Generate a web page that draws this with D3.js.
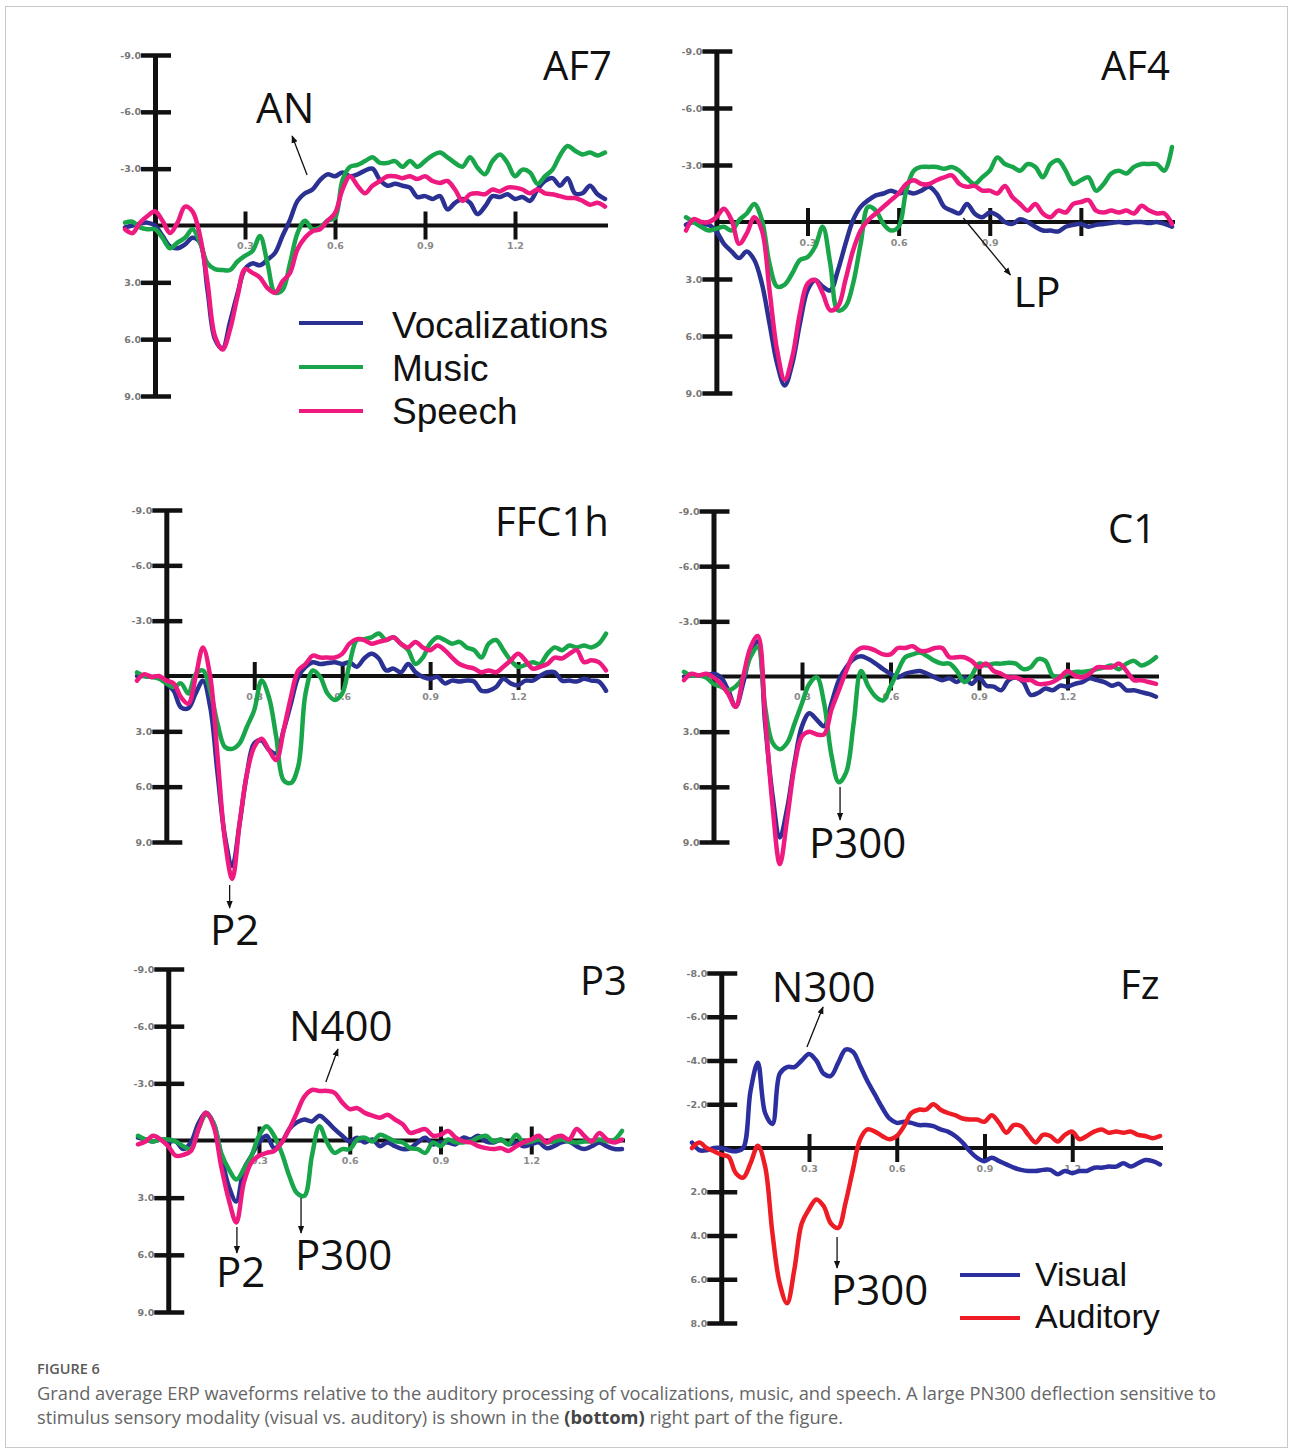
<!DOCTYPE html>
<html><head><meta charset="utf-8">
<script src="https://cdn.jsdelivr.net/npm/d3@7"></script>
<style>
body{margin:0;background:#fff;}
svg{display:block;}
</style></head>
<body>
<svg id="fig" width="1290" height="1450"></svg>
<script>
// ---------- DATA ----------
const times = [-0.1,-0.075,-0.05,-0.025,0,0.025,0.05,0.075,0.1,0.125,0.15,0.175,0.2,0.225,0.25,0.275,0.3,0.325,0.35,0.375,0.4,0.425,0.45,0.475,0.5,0.525,0.55,0.575,0.6,0.625,0.65,0.675,0.7,0.725,0.75,0.775,0.8,0.825,0.85,0.875,0.9,0.925,0.95,0.975,1.0,1.025,1.05,1.075,1.1,1.125,1.15,1.175,1.2,1.225,1.25,1.275,1.3,1.325,1.35,1.375,1.4,1.425,1.45,1.475,1.5];
const yTicks9 = [-9,-6,-3,3,6,9];
const yTicks8 = [-8,-6,-4,-2,2,4,6,8];
const xTicks = [0.3,0.6,0.9,1.2];
const xTickLabels = ["0.3","0.6","0.9","1.2"];
const xTickLabelsAF4 = ["0.3","0.6","0.9",""];
const condNames = ["Vocalizations","Music","Speech"];
const modNames = ["Visual","Auditory"];

const af7Voc = [0.1,0.0,-0.1,-0.15,0.0,0.55,1.1,1.2,1.0,0.65,0.9,3.4,6.0,6.5,5.1,3.6,2.3,2.0,2.1,1.8,1.45,0.55,-0.3,-1.3,-1.7,-1.9,-2.4,-2.7,-2.6,-2.8,-2.6,-2.7,-2.9,-3.0,-2.4,-2.1,-2.2,-2.1,-2.0,-1.5,-1.55,-1.4,-1.55,-0.85,-1.2,-1.4,-1.2,-0.6,-1.0,-1.55,-1.5,-1.65,-1.4,-1.5,-1.3,-1.9,-2.35,-2.5,-2.1,-2.5,-1.7,-1.7,-2.1,-1.65,-1.4];
const af7Mus = [-0.15,-0.2,0.1,0.2,0.2,0.65,1.2,0.9,0.65,0.2,0.9,2.0,2.3,2.35,2.35,1.9,1.6,1.35,0.55,2.0,3.55,3.4,2.0,0.4,-0.25,0.2,0.1,-0.25,-0.4,-2.4,-3.1,-3.2,-3.4,-3.6,-3.3,-3.3,-3.4,-3.1,-3.4,-3.1,-3.4,-3.7,-3.85,-3.6,-3.3,-3.1,-3.6,-3.05,-2.7,-3.4,-3.75,-3.3,-2.6,-2.95,-2.8,-2.2,-2.6,-2.95,-3.7,-4.2,-3.95,-3.75,-3.85,-3.7,-3.85];
const af7Sp = [0.2,0.4,-0.15,-0.5,-0.75,-0.25,0.4,-0.15,-1.0,-0.75,0.55,3.0,5.85,6.55,5.5,3.75,2.3,2.5,2.75,3.3,3.55,2.95,2.5,1.25,0.65,0.3,0.2,-0.25,-0.65,-1.9,-2.6,-2.1,-1.7,-2.1,-2.35,-2.6,-2.6,-2.5,-2.6,-2.45,-2.6,-2.35,-2.25,-2.35,-1.9,-1.3,-1.65,-1.7,-1.65,-1.9,-1.8,-2.0,-2.0,-1.9,-1.7,-1.9,-1.7,-1.65,-1.55,-1.45,-1.45,-1.3,-1.1,-1.2,-1.0];

const af4Voc = [0.15,0,0.1,0.15,0.5,1.15,1.55,1.9,1.55,2.0,3.25,5.35,7.45,8.6,7.45,5.35,3.6,3.05,3.4,3.6,2.55,1.15,-0.1,-0.8,-1.15,-1.4,-1.5,-1.65,-1.5,-1.6,-1.5,-1.65,-1.85,-1.5,-0.8,-0.6,-0.45,-0.95,-0.45,-0.25,-0.5,-0.35,0,0.1,-0.15,0,0.25,0.45,0.45,0.5,0.25,0.15,0.1,0.25,0.15,0.1,0.05,0,0.05,0,0,0.05,0,0.1,0.25];
const af4Mus = [-0.25,0,0.25,0.45,0.35,0.25,0.45,-0.1,-0.45,-0.95,-0.1,2.2,3.4,3.3,2.7,2.0,1.85,1.3,0.25,2.2,4.65,4.45,3.25,1.15,-0.8,-0.6,0.1,0.45,0.25,-1.65,-2.7,-2.9,-2.9,-2.9,-2.8,-2.9,-2.7,-2.3,-2.0,-2.35,-2.7,-3.4,-3.05,-2.9,-2.7,-3.05,-2.9,-2.35,-3.05,-3.25,-2.7,-2.0,-2.2,-2.35,-1.65,-2.0,-2.55,-2.7,-2.55,-2.9,-3.05,-3.05,-3.05,-2.7,-3.95];
const af4Sp = [0.45,-0.15,0,0,-0.25,-0.7,-0.1,1.15,0.6,-0.25,0.45,3.6,6.75,8.3,7.1,4.8,3.25,3.05,3.75,4.65,4.45,3.05,1.5,0.45,-0.1,-0.45,-0.8,-1.15,-1.5,-2.0,-2.2,-2.0,-2.0,-2.2,-2.35,-2.45,-2.0,-1.85,-1.9,-1.65,-1.65,-1.5,-1.9,-1.3,-0.95,-0.6,-0.95,-0.45,-0.25,-0.6,-0.5,-0.95,-1.05,-1.15,-0.6,-0.5,-0.6,-0.5,-0.6,-0.45,-0.85,-0.6,-0.45,-0.45,0.1];

const ffcVoc = [0,0,0.05,0.05,0.4,0.8,1.7,1.75,0.95,0.25,1.7,5.3,8.7,10.3,8.0,5.3,3.65,3.5,4.0,4.2,2.95,1.5,0.05,-0.5,-0.75,-0.65,-0.7,-0.75,-0.65,-0.75,-0.5,-0.95,-1.2,-0.95,-0.3,-0.4,-0.2,-0.65,-0.2,0.05,0.15,0.05,0.4,0.25,0.3,0.25,0.3,0.8,0.8,0.6,0.15,0.4,0.5,0.25,0.25,0,-0.2,-0.2,0.25,0.25,0.3,0.15,0.25,0.3,0.8];
const ffcMus = [-0.2,0,0.05,0.15,0.4,0.6,0.4,0.95,-0.1,-0.3,0.8,2.6,3.85,3.95,3.65,2.75,1.85,0.25,1.15,3.3,5.65,5.8,4.9,0.95,-0.3,0.05,0.95,1.3,0.95,-0.65,-1.95,-2.0,-2.1,-2.3,-1.95,-2.1,-1.75,-1.4,-0.65,-1.0,-1.75,-2.1,-1.95,-1.75,-1.85,-1.55,-1.4,-1.0,-1.75,-1.95,-1.4,-0.85,-0.5,-0.6,-0.75,-0.65,-1.2,-1.55,-1.4,-1.65,-1.55,-1.65,-1.55,-1.75,-2.3];
const ffcSp = [0.25,-0.1,0.05,0,0.25,0.4,1.15,1.5,0.05,-1.55,0.05,4.4,8.9,11.0,8.0,5.3,3.85,3.4,4.0,4.55,2.95,1.15,-0.3,-0.65,-1.1,-1.0,-1.0,-1.0,-1.2,-1.75,-2.0,-1.95,-1.75,-1.85,-1.95,-2.1,-1.75,-1.55,-1.85,-1.55,-1.4,-1.65,-1.4,-1.0,-0.65,-0.5,-0.4,-0.2,-0.3,-0.2,-0.5,-0.85,-1.2,-0.85,-0.4,-0.5,-0.65,-1.0,-0.95,-1.2,-1.4,-0.75,-0.85,-0.75,-0.3];

const c1Voc = [0,-0.05,-0.05,-0.05,-0.15,0.05,0.75,1.65,0.4,-1.2,-1.9,2.55,6.45,8.75,7.15,4.65,2.7,2.0,2.35,2.7,1.45,0.2,-0.5,-0.95,-1.1,-0.95,-0.7,-0.4,-0.15,0.05,-0.15,-0.25,-0.3,-0.15,0.05,0.2,0.1,0.3,0.05,0.4,0.05,0.5,0.55,0.75,0.2,0.05,0.3,1.0,0.9,0.65,0.75,0.5,0.55,0.4,0.3,0.1,0.2,0.3,0.5,0.4,0.75,0.75,0.85,0.95,1.1];
const c1Mus = [-0.25,-0.05,-0.05,0.05,0.4,0.55,0.75,0.55,0.05,-1.05,-1.6,1.65,3.6,3.95,3.6,2.55,1.45,0.4,0.05,1.45,4.3,5.75,5.2,2.55,-0.3,0.55,1.1,1.3,0.55,-0.3,-1.05,-1.2,-1.3,-1.1,-0.85,-0.7,-0.7,-0.3,0.3,-0.05,-0.7,-0.6,-0.7,-0.7,-0.75,-0.7,-0.4,-0.5,-0.95,-0.85,-0.05,0.05,-0.15,-0.25,-0.25,-0.3,-0.4,-0.5,-0.6,-0.4,-0.7,-0.85,-0.6,-0.75,-1.05];
const c1Sp = [0.2,-0.15,-0.05,-0.15,0.05,0.4,0.95,1.65,0.05,-1.55,-2.2,2.15,7.0,10.2,7.7,4.85,3.25,3.0,3.15,3.15,1.8,0.75,-0.3,-1.2,-1.55,-1.55,-1.4,-1.2,-1.2,-1.55,-1.55,-1.65,-1.4,-1.4,-1.55,-1.55,-1.05,-1.05,-1.05,-0.85,-0.5,-0.7,-0.3,-0.15,0.05,0.05,0.2,0.2,0.4,0.4,0.3,0.05,-0.3,-0.05,0.05,-0.15,-0.5,-0.5,-0.5,-0.7,-0.3,0.2,0.2,0.3,0.4];

const p3Voc = [-0.15,-0.05,0.05,-0.05,0.05,0.05,0.45,0.1,-0.9,-1.45,-0.9,0.8,2.4,3.2,1.5,0.8,0.1,-0.25,0.4,0.1,-0.6,-0.95,-1.1,-1.0,-1.3,-1.0,-0.6,-0.25,0.05,-0.15,0.1,-0.05,0.3,0.1,0.3,0.45,0.4,0.1,-0.15,0.2,0.1,0.1,0.2,-0.15,-0.05,-0.25,0.05,0.1,-0.05,0.2,0.1,0.3,0.2,0.1,0.4,0.3,0.1,0.05,0.3,0.45,0.3,0.1,0.3,0.45,0.45];
const p3Mus = [-0.25,-0.05,0.05,-0.05,-0.05,0.05,0.3,0.45,-0.6,-1.35,-0.9,0.65,1.5,2.05,1.5,0.8,-0.25,-0.75,-0.25,0.65,1.85,2.75,2.9,0.8,-0.75,0.1,0.65,0.45,0.45,-0.05,-0.15,0.05,-0.3,-0.15,0.05,0.1,0.4,0.45,0.65,0.1,0.3,-0.05,0.1,0.1,0.05,-0.15,-0.25,0.05,-0.05,0.2,-0.3,0.1,0.05,-0.05,0.1,0.05,-0.05,0.05,0.1,0.05,0.05,-0.05,0.05,-0.05,-0.5];
const p3Sp = [0.2,0.05,-0.25,-0.05,0.3,0.8,0.75,0.55,-0.6,-1.45,-0.75,1.35,3.1,4.3,2.2,1.15,0.8,0.65,0.55,0.1,-0.6,-1.45,-2.3,-2.65,-2.6,-2.6,-2.5,-2.0,-1.65,-1.7,-1.45,-1.3,-1.2,-1.35,-1.1,-0.85,-0.4,-0.5,-0.6,-0.25,-0.3,-0.5,-0.15,0.05,0.1,0.3,0.4,0.45,0.4,0.55,0.3,0.1,-0.05,-0.25,0.1,-0.15,-0.25,-0.05,-0.6,-0.25,0.05,-0.4,-0.05,0.1,-0.05];

const fzVis = [-0.25,0.1,0.1,0,0,0.1,0.15,0,-2.6,-3.9,-1.6,-1.1,-3.4,-3.7,-3.7,-4.0,-4.3,-4.0,-3.4,-3.3,-3.9,-4.5,-4.4,-3.75,-3.05,-2.45,-1.85,-1.35,-1.15,-1.2,-1.15,-1.05,-1.05,-1.0,-0.85,-0.75,-0.55,-0.25,0.15,0.45,0.6,0.45,0.6,0.75,0.9,1.0,1.05,1.05,1.0,1.0,1.2,1.05,1.15,1.05,1.05,0.9,0.9,0.85,0.85,0.7,0.85,0.7,0.55,0.6,0.75];
const fzAud = [0,-0.25,0,0.15,0.3,0.4,1.15,1.35,0.7,-0.1,0.85,3.9,6.2,7.1,5.55,3.45,2.8,2.35,2.65,3.45,3.65,2.5,1.0,-0.4,-0.85,-0.75,-0.55,-0.4,-0.55,-1.0,-1.6,-1.75,-1.75,-2.0,-1.75,-1.6,-1.5,-1.35,-1.3,-1.3,-1.2,-1.5,-1.15,-0.7,-1.05,-1.0,-0.6,-0.25,-0.6,-0.55,-0.3,-0.6,-0.75,-0.4,-0.55,-0.75,-0.85,-0.7,-0.75,-0.7,-0.75,-0.6,-0.55,-0.45,-0.55];

// ---------- STYLE / LAYOUT ----------
const condColors = ["#2b3192","#19a64b","#ee1a80"];
const modColors = ["#2b2fa0","#ee1c24"];

const panels = [
  {name:"AF7", data:[af7Voc,af7Mus,af7Sp], colors:condColors, xr:[125,605], yr:[55,396], ydom:[-9,9], yticks:yTicks9, xlabels:xTickLabels, label:[543,80],
   notes:[{text:"AN", at:[0.337,-5.4], from:[0.507,-2.67], to:[0.457,-4.73]}],
   legend:{names:condNames, colors:condColors, x1:299, x2:363, ys:[323,367,411], tx:392, ty:[338,381,424], size:37}},
  {name:"AF4", data:[af4Voc,af4Mus,af4Sp], colors:condColors, xr:[686,1172], yr:[51,393], ydom:[-9,9], yticks:yTicks9, xlabels:xTickLabelsAF4, label:[1101,80],
   notes:[{text:"LP", at:[0.978,4.47], from:[0.813,-0.21], to:[0.968,2.79]}]},
  {name:"FFC1h", data:[ffcVoc,ffcMus,ffcSp], colors:condColors, xr:[137,606], yr:[510,842], ydom:[-9,9], yticks:yTicks9, xlabels:xTickLabels, label:[495,536],
   notes:[{text:"P2", at:[0.149,14.59], from:[0.216,11.33], to:[0.216,12.58]}]},
  {name:"C1", data:[c1Voc,c1Mus,c1Sp], colors:condColors, xr:[684,1156], yr:[511,842], ydom:[-9,9], yticks:yTicks9, xlabels:xTickLabels, label:[1108,543],
   notes:[{text:"P300", at:[0.324,9.87], from:[0.429,6.01], to:[0.429,7.8]}]},
  {name:"P3", data:[p3Voc,p3Mus,p3Sp], colors:condColors, xr:[138,622], yr:[969,1312], ydom:[-9,9], yticks:yTicks9, xlabels:xTickLabels, label:[580,995],
   notes:[{text:"N400", at:[0.399,-5.22], from:[0.521,-3.07], to:[0.561,-4.8]},
          {text:"P2", at:[0.158,7.69], from:[0.227,4.54], to:[0.227,5.9]},
          {text:"P300", at:[0.419,6.79], from:[0.439,3.02], to:[0.439,4.85]}]},
  {name:"Fz", data:[fzVis,fzAud], colors:modColors, xr:[692,1160], yr:[973,1323], ydom:[-8,8], yticks:yTicks8, xlabels:xTickLabels, label:[1120,999],
   notes:[{text:"N300", at:[0.173,-6.67], from:[0.293,-4.62], to:[0.348,-6.45]},
          {text:"P300", at:[0.375,7.18], from:[0.396,4.07], to:[0.396,5.49]}],
   legend:{names:modNames, colors:modColors, x1:960, x2:1020, ys:[1275,1318], tx:1035, ty:[1286,1328], size:34}}
];

// ---------- DRAW ----------
const svg = d3.select("#fig");
svg.append("rect").attr("x",0).attr("y",0).attr("width",1290).attr("height",1450).attr("fill","#fff");
svg.append("rect").attr("x",5.5).attr("y",6.5).attr("width",1282).attr("height",1441)
   .attr("fill","none").attr("stroke","#c9c9c9").attr("stroke-width",1);

const defs = svg.append("defs");
defs.append("marker").attr("id","ah").attr("viewBox","0 0 10 10").attr("refX",9).attr("refY",5)
  .attr("markerWidth",6).attr("markerHeight",6).attr("orient","auto")
  .append("path").attr("d","M0,1L10,5L0,9z").attr("fill","#111");

panels.forEach(p => {
  const g = svg.append("g");
  const x = d3.scaleLinear().domain([-0.1,1.5]).range(p.xr);
  const y = d3.scaleLinear().domain(p.ydom).range(p.yr);

  // x axis (at 0 µV)
  const xAxis = d3.axisBottom(x).tickValues(xTicks).tickSizeOuter(0).tickSizeInner(14)
      .tickFormat((d,i) => p.xlabels[i]);
  const gx = g.append("g").attr("transform",`translate(0,${y(0)})`).call(xAxis);
  gx.select(".domain").remove();
  gx.append("line").attr("x1",x(0)).attr("x2",x(1.5)+3).attr("y1",0).attr("y2",0)
    .attr("stroke","#111").attr("stroke-width",4);
  gx.selectAll(".tick line").attr("y1",-14).attr("y2",14).attr("stroke","#111").attr("stroke-width",4);
  gx.selectAll(".tick text").attr("y",17).attr("font-family","DejaVu Sans").attr("font-weight","bold")
    .attr("font-size",9.5).attr("fill","#8a8a8a");

  // y axis (at t = 0)
  const yAxis = d3.axisLeft(y).tickValues(p.yticks).tickSizeOuter(0).tickSizeInner(14)
      .tickFormat(d => d.toFixed(1));
  const gy = g.append("g").attr("transform",`translate(${x(0)},0)`).call(yAxis);
  gy.select(".domain").attr("stroke","#111").attr("stroke-width",5);
  gy.selectAll(".tick line").attr("x1",16).attr("x2",-14).attr("stroke","#111").attr("stroke-width",4.5);
  gy.selectAll(".tick text").attr("x",-14).attr("font-family","DejaVu Sans").attr("font-weight","bold")
    .attr("font-size",9.5).attr("fill","#777");

  // waveforms
  const line = d3.line().x((d,i) => x(times[i])).y(d => y(d)).curve(d3.curveCatmullRom.alpha(0.5));
  p.data.forEach((s,k) => {
    g.append("path").datum(s).attr("d",line).attr("fill","none").attr("stroke",p.colors[k])
      .attr("stroke-width",4.5).attr("stroke-linejoin","round").attr("stroke-linecap","round");
  });

  // panel label
  g.append("text").attr("x",p.label[0]).attr("y",p.label[1]).text(p.name)
    .attr("font-family","Open Sans").attr("font-size",40).attr("fill","#111");

  // annotations
  p.notes.forEach(n => {
    g.append("line").attr("x1",x(n.from[0])).attr("y1",y(n.from[1])).attr("x2",x(n.to[0])).attr("y2",y(n.to[1]))
      .attr("stroke","#111").attr("stroke-width",1.3).attr("marker-end","url(#ah)");
    g.append("text").attr("x",x(n.at[0])).attr("y",y(n.at[1])).text(n.text)
      .attr("font-family","Open Sans").attr("font-size",42).attr("fill","#111");
  });

  // legend
  if (p.legend) {
    const L = p.legend;
    L.names.forEach((nm,k) => {
      g.append("line").attr("x1",L.x1).attr("x2",L.x2).attr("y1",L.ys[k]).attr("y2",L.ys[k])
        .attr("stroke",L.colors[k]).attr("stroke-width",4);
      g.append("text").attr("x",L.tx).attr("y",L.ty[k]).text(nm)
        .attr("font-family","Liberation Sans").attr("font-size",L.size).attr("fill","#111");
    });
  }
});

// caption
svg.append("text").attr("x",37).attr("y",1374).text("FIGURE 6")
  .attr("font-family","Open Sans").attr("font-weight",600).attr("font-size",14.5).attr("fill","#5a5a5a");
const cap1 = "Grand average ERP waveforms relative to the auditory processing of vocalizations, music, and speech. A large PN300 deflection sensitive to";
svg.append("text").attr("x",37).attr("y",1400).text(cap1)
  .attr("font-family","Open Sans").attr("font-size",18.3).attr("fill","#666");
const t2 = svg.append("text").attr("x",37).attr("y",1424)
  .attr("font-family","Open Sans").attr("font-size",18.3).attr("fill","#666");
t2.append("tspan").text("stimulus sensory modality (visual vs. auditory) is shown in the ");
t2.append("tspan").attr("font-weight","bold").attr("fill","#444").text("(bottom)");
t2.append("tspan").text(" right part of the figure.");
</script>
</body></html>
